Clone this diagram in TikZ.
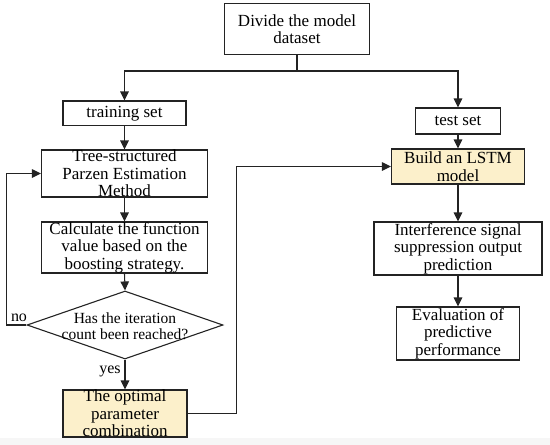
\documentclass[tikz,border=0pt]{standalone}
\usepackage{fontspec}
\setmainfont{Liberation Serif}
\usetikzlibrary{shapes.geometric,arrows.meta}
\definecolor{boxyellow}{RGB}{252,240,203}
\definecolor{linegray}{RGB}{35,35,35}
\begin{document}
\begin{tikzpicture}[x=1pt,y=-1pt,
  every node/.style={font=\fontsize{17}{17.5}\selectfont, text=black},
  box/.style={draw=linegray, line width=1.1pt, align=center, inner sep=0pt},
  hl/.style={box, fill=boxyellow},
  arr/.style={draw=linegray, line width=1.1pt, -{Triangle[length=9pt,width=8.5pt]}},
  ln/.style={draw=linegray, line width=1.1pt},
  lbl/.style={font=\fontsize{16}{16}\selectfont, inner sep=0pt}]
\useasboundingbox (0,0) rectangle (550,445);
\fill[gray!7] (0,438) rectangle (550,445);

\node[box, minimum width=145.5pt, minimum height=50.5pt] (div) at (297,29) {Divide the model\\dataset};
\node[box, minimum width=123pt, minimum height=24.6pt] (train) at (124.5,113.3) {training set};
\node[box, minimum width=84.4pt, minimum height=26pt] (test) at (458,121) {test set};
\node[box, minimum width=166pt, minimum height=47pt] (tree) at (124.5,173.5) {Tree-structured\\Parzen Estimation\\Method};
\node[box, minimum width=166pt, minimum height=51pt] (calc) at (124.5,247.5) {Calculate the function\\value based on the\\boosting strategy.};
\node[draw=linegray, line width=1.1pt, diamond, inner sep=0pt, minimum width=196pt, minimum height=68pt] (dia) at (125,325) {};
\node[font=\fontsize{15.5}{15.5}\selectfont, align=center, inner sep=0pt] (diatxt) at (125,326) {Has the iteration\\count been reached?};
\node[hl, minimum width=124pt, minimum height=47pt] (opt) at (125,413.5) {The optimal\\parameter\\combination};
\node[hl, minimum width=133pt, minimum height=35pt] (build) at (458,166.5) {Build an LSTM\\model};
\node[box, minimum width=168pt, minimum height=53pt] (intf) at (458,248.5) {Interference signal\\suppression output\\prediction};
\node[box, minimum width=123pt, minimum height=53pt] (eval) at (458,333.5) {Evaluation of\\predictive\\performance};

\coordinate (sp) at (297,71);
\draw[ln] (div.south) -- (sp);
\draw[arr] (sp) -| (train.north);
\draw[arr] (sp) -| (test.north);
\draw[arr] (train.south) -- (tree.north);
\draw[arr] (tree.south) -- (calc.north);
\draw[arr] (calc.south) -- (dia.north);
\draw[arr] (dia.south) -- (opt.north);
\draw[arr] (dia.west) -- ++(-20,0) |- (tree.west);
\draw[arr] (opt.east) -- ++(49,0) |- (build.west);
\draw[arr] (test.south) -- (build.north);
\draw[arr] (build.south) -- (intf.north);
\draw[arr] (intf.south) -- (eval.north);

\node[lbl] (no) at (19,318) {no};
\node[lbl] (yes) at (110,371) {yes};
\end{tikzpicture}
\end{document}
